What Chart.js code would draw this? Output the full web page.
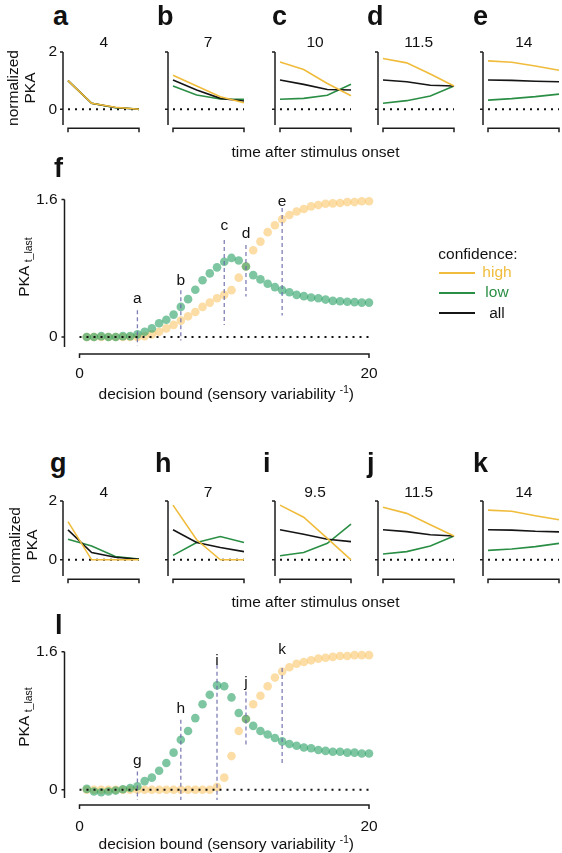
<!DOCTYPE html>
<html>
<head>
<meta charset="utf-8">
<script src="https://cdn.jsdelivr.net/npm/chart.js@4.4.1/dist/chart.umd.min.js"></script>
<style>
  html, body { margin: 0; padding: 0; background: #fff; }
  body { width: 562px; height: 853px; position: relative; overflow: hidden;
         font-family: 'Liberation Sans', Arial, Helvetica, sans-serif; color: #111; }
  canvas { position: absolute; }
  .t { position: absolute; white-space: nowrap; font-size: 15.5px; line-height: 15.5px; }
  .letter { position: absolute; font-weight: bold; font-size: 27px; line-height: 27px; }
  .rot { position: absolute; text-align: center; white-space: nowrap; font-size: 15.5px;
         transform: rotate(-90deg); transform-origin: 50% 50%; }
  .sup { font-size: 10px; position: relative; top: -6px; }
  .sub { font-size: 10.5px; position: relative; top: 3px; }
  .swatch { position: absolute; height: 2px; }
</style>
</head>
<body>

<script>
// ---- data ----
const timeSteps = [0, 1, 2, 3];
const smallTicks = [0, 2];
const bigTicksY = [0, 1.6];
const bigTicksX = [0, 20];

const lettersTop = ['a', 'b', 'c', 'd', 'e'];
const lettersBottom = ['g', 'h', 'i', 'j', 'k'];
const boundsTop = ['4', '7', '10', '11.5', '14'];
const boundsBottom = ['4', '7', '9.5', '11.5', '14'];

// normalized PKA, top row (a-e)
const highTop = [
  [1.00, 0.21, 0.07, 0.00],
  [1.19, 0.81, 0.44, 0.23],
  [1.65, 1.39, 0.90, 0.47],
  [1.77, 1.62, 1.23, 0.81],
  [1.69, 1.64, 1.51, 1.36]
];
const lowTop = [
  [1.00, 0.21, 0.05, 0.01],
  [0.81, 0.50, 0.36, 0.35],
  [0.35, 0.38, 0.49, 0.87],
  [0.21, 0.30, 0.46, 0.81],
  [0.32, 0.37, 0.44, 0.53]
];
const allTop = [
  [1.00, 0.21, 0.06, 0.00],
  [1.02, 0.67, 0.38, 0.29],
  [1.02, 0.87, 0.69, 0.67],
  [1.02, 0.96, 0.84, 0.81],
  [1.02, 1.01, 0.98, 0.96]
];

// normalized PKA, bottom row (g-k)
const highBottom = [
  [1.30, 0.00, 0.00, 0.00],
  [1.86, 0.68, 0.00, 0.00],
  [1.86, 1.45, 0.73, 0.00],
  [1.79, 1.58, 1.19, 0.81],
  [1.69, 1.65, 1.50, 1.36]
];
const lowBottom = [
  [0.70, 0.47, 0.11, 0.03],
  [0.15, 0.59, 0.79, 0.59],
  [0.14, 0.25, 0.56, 1.21],
  [0.20, 0.28, 0.47, 0.81],
  [0.32, 0.37, 0.45, 0.56]
];
const allBottom = [
  [1.02, 0.25, 0.09, 0.02],
  [1.02, 0.59, 0.42, 0.28],
  [1.02, 0.87, 0.70, 0.62],
  [1.02, 0.96, 0.85, 0.81],
  [1.02, 1.01, 0.97, 0.95]
];

// PKA t_last vs decision bound
const bound = [0.5, 1, 1.5, 2, 2.5, 3, 3.5, 4, 4.5, 5, 5.5, 6, 6.5, 7, 7.5, 8, 8.5, 9, 9.5, 10,
               10.5, 11, 11.5, 12, 12.5, 13, 13.5, 14, 14.5, 15, 15.5, 16, 16.5, 17, 17.5, 18, 18.5, 19, 19.5, 20];
const highF = [0, 0, 0, 0, 0, 0, 0, 0, 0.01, 0.03, 0.06, 0.10, 0.14, 0.19, 0.24, 0.29, 0.35, 0.40, 0.45, 0.49,
               0.545, 0.69, 0.82, 1.01, 1.11, 1.22, 1.30, 1.37, 1.42, 1.46, 1.49, 1.52, 1.535, 1.55, 1.555, 1.56, 1.57, 1.57, 1.58, 1.58];
const lowF = [0, 0, 0.01, 0, 0, 0.01, 0.01, 0.03, 0.06, 0.10, 0.16, 0.20, 0.26, 0.35, 0.44, 0.55, 0.66, 0.74, 0.81, 0.875,
              0.92, 0.89, 0.82, 0.72, 0.67, 0.62, 0.58, 0.545, 0.52, 0.49, 0.475, 0.46, 0.45, 0.435, 0.42, 0.415, 0.41, 0.405, 0.40, 0.40];
const highL = [0, 0, 0, 0, 0, 0, 0, 0, 0, 0, 0, 0, 0, 0, 0, 0, 0, 0, 0.03, 0.14,
               0.39, 0.68, 0.82, 0.99, 1.09, 1.20, 1.30, 1.37, 1.42, 1.46, 1.48, 1.50, 1.52, 1.53, 1.54, 1.55, 1.55, 1.56, 1.56, 1.56];
const lowL = [0.01, -0.02, -0.03, -0.02, -0.01, 0.005, 0.02, 0.04, 0.10, 0.14, 0.22, 0.31, 0.43, 0.58, 0.68, 0.83, 0.99, 1.10, 1.21, 1.20,
              1.07, 0.89, 0.82, 0.74, 0.68, 0.64, 0.60, 0.56, 0.53, 0.51, 0.49, 0.48, 0.46, 0.45, 0.44, 0.44, 0.43, 0.43, 0.42, 0.42];

// dashed markers (bound value, line top/bottom, label baseline)
const markF = [4, 7, 10, 11.5, 14];
const markTopF = [0.31, 0.545, 1.13, 1.07, 1.50];
const markBotF = [-0.10, -0.04, 0.14, 0.47, 0.25];
const markBaseF = [0.39, 0.60, 1.25, 1.15, 1.52];
const markL = [4, 7, 9.5, 11.5, 14];
const markTopL = [0.21, 0.81, 1.45, 1.14, 1.41];
const markBotL = [-0.12, -0.12, -0.12, 0.50, 0.31];
const markBaseL = [0.29, 0.89, 1.45, 1.19, 1.57];

// ---- styles ----
const fontFamily = "'Liberation Sans', Arial, Helvetica, sans-serif";
const yellowLine = '#F0BC3C';
const greenLine = '#2A8E45';
const blackLine = '#151515';
const yellowDot = 'rgba(250, 198, 105, 0.6)';
const greenDot = 'rgba(40, 160, 100, 0.6)';

Chart.defaults.font.family = fontFamily;
Chart.defaults.font.size = 15.5;
Chart.defaults.color = '#111';

// no extra room for tick labels: the layout is fixed by hand
function noPad(s) {
  s.paddingTop = 0; s.paddingBottom = 0; s.paddingLeft = 0; s.paddingRight = 0;
}

// detached axes, drawn from the scales
const framePlugin = {
  id: 'frame',
  afterDraw(chart, args, opts) {
    const { ctx, chartArea: area, scales } = chart;
    const y = scales.y;
    ctx.save();
    ctx.strokeStyle = '#1c1c1c';
    ctx.lineWidth = 1.5;
    const ax = area.left - opts.yGap;
    ctx.beginPath();
    ctx.moveTo(ax, y.getPixelForValue(y.max));
    ctx.lineTo(ax, y.getPixelForValue(y.min));
    y.ticks.forEach(t => {
      const py = y.getPixelForValue(t.value);
      ctx.moveTo(ax - 3, py);
      ctx.lineTo(ax, py);
    });
    ctx.stroke();
    const ay = area.bottom + opts.xGap;
    ctx.beginPath();
    ctx.moveTo(area.left, ay + 4);
    ctx.lineTo(area.left, ay);
    ctx.lineTo(area.right, ay);
    ctx.lineTo(area.right, ay + 4);
    ctx.stroke();
    ctx.restore();
  }
};

const markerPlugin = {
  id: 'markers',
  afterDatasetsDraw(chart, args, opts) {
    if (!opts.xs) return;
    const { ctx, scales: { x, y } } = chart;
    ctx.save();
    ctx.strokeStyle = 'rgba(105, 105, 170, 0.85)';
    ctx.lineWidth = 1.3;
    ctx.setLineDash([4, 3]);
    opts.xs.forEach((v, i) => {
      const px = x.getPixelForValue(v);
      ctx.beginPath();
      ctx.moveTo(px, y.getPixelForValue(opts.tops[i]));
      ctx.lineTo(px, y.getPixelForValue(opts.bottoms[i]));
      ctx.stroke();
    });
    ctx.setLineDash([]);
    ctx.fillStyle = '#111';
    ctx.font = '15.5px ' + fontFamily;
    ctx.textAlign = 'center';
    ctx.textBaseline = 'alphabetic';
    opts.labels.forEach((s, i) => {
      ctx.fillText(s, x.getPixelForValue(opts.xs[i]), y.getPixelForValue(opts.bases[i]));
    });
    ctx.restore();
  }
};

function addCanvas(left, top, w, h) {
  const c = document.createElement('canvas');
  c.width = Math.round(w);
  c.height = Math.round(h);
  c.style.left = left + 'px';
  c.style.top = top + 'px';
  c.style.width = Math.round(w) + 'px';
  c.style.height = Math.round(h) + 'px';
  document.body.appendChild(c);
  return c;
}

function addText(html, left, top, cls, style) {
  const d = document.createElement('div');
  d.className = cls;
  d.innerHTML = html;
  d.style.left = left + 'px';
  d.style.top = top + 'px';
  if (style) d.style.cssText += style;
  document.body.appendChild(d);
  return d;
}

function zeroLine(x0, x1, order) {
  return {
    type: 'line', data: [{ x: x0, y: 0 }, { x: x1, y: 0 }], order,
    borderColor: '#111', borderWidth: 2, borderDash: [2, 5], pointRadius: 0, clip: false
  };
}

function lineSet(values, color, order) {
  return {
    type: 'line', data: values.map((v, i) => ({ x: timeSteps[i], y: v })), order,
    borderColor: color, borderWidth: 1.6, pointRadius: 0, tension: 0, clip: false
  };
}

function smallPanel(axisX, top, bottom, high, low, all, showTicks) {
  const left = axisX + 5, right = axisX + 76;
  const padL = 40, padR = 4, padT = 14, padB = 10;
  const cv = addCanvas(left - padL, top - padT, right - left + padL + padR, bottom - top + padT + padB);
  new Chart(cv, {
    type: 'scatter',
    data: {
      datasets: [
        lineSet(high, yellowLine, 0),
        lineSet(all, blackLine, 1),
        lineSet(low, greenLine, 2),
        zeroLine(timeSteps[0], timeSteps[timeSteps.length - 1], 3)
      ]
    },
    options: {
      animation: false, responsive: false, devicePixelRatio: 1,
      layout: { padding: { top: padT, bottom: padB, right: padR, left: 0 } },
      plugins: { legend: { display: false }, tooltip: { enabled: false }, frame: { yGap: 5, xGap: 3.3 } },
      scales: {
        x: { type: 'linear', min: 0, max: 3, display: false },
        y: {
          min: -0.55, max: 2,
          afterFit: s => { s.width = padL; noPad(s); },
          afterBuildTicks: s => { s.ticks = smallTicks.map(v => ({ value: v })); },
          grid: { display: false, drawTicks: false },
          border: { display: false },
          ticks: { display: showTicks, padding: 11, callback: v => String(v) }
        }
      }
    },
    plugins: [framePlugin]
  });
}

function bigPanel(canvasTop, areaTop, areaBottom, yMin, high, low, marks, tickPad) {
  const areaLeft = 79.5, areaRight = 369, canvasW = 400, canvasBottom = areaBottom + 54;
  new Chart(addCanvas(0, canvasTop, canvasW, canvasBottom - canvasTop), {
    type: 'scatter',
    data: {
      datasets: [
        zeroLine(bigTicksX[0], bigTicksX[1], 0),
        { data: bound.map((b, i) => ({ x: b, y: low[i] })), order: 1,
          backgroundColor: greenDot, borderWidth: 0, pointRadius: 4.3, clip: false },
        { data: bound.map((b, i) => ({ x: b, y: high[i] })), order: 2,
          backgroundColor: yellowDot, borderWidth: 0, pointRadius: 4.3, clip: false }
      ]
    },
    options: {
      animation: false, responsive: false, devicePixelRatio: 1,
      layout: { padding: { top: areaTop - canvasTop, bottom: 0, right: canvasW - areaRight, left: 0 } },
      plugins: {
        legend: { display: false }, tooltip: { enabled: false },
        frame: { yGap: 15, xGap: 7 },
        markers: marks
      },
      scales: {
        x: {
          type: 'linear', min: 0, max: 20,
          afterFit: s => { s.height = canvasBottom - areaBottom; noPad(s); },
          afterBuildTicks: s => { s.ticks = bigTicksX.map(v => ({ value: v })); },
          grid: { display: false, drawTicks: false },
          border: { display: false },
          ticks: { padding: tickPad, maxRotation: 0, callback: v => String(v) }
        },
        y: {
          min: yMin, max: 1.6,
          afterFit: s => { s.width = areaLeft; noPad(s); },
          afterBuildTicks: s => { s.ticks = bigTicksY.map(v => ({ value: v })); },
          grid: { display: false, drawTicks: false },
          border: { display: false },
          ticks: { padding: 22, callback: v => String(v) }
        }
      }
    },
    plugins: [framePlugin, markerPlugin]
  });
}

// ---- layout ----
const axisXs = [63.3, 167.6, 274.5, 378.2, 483.3];
const letterLeftTop = [53, 157, 272, 367, 473];
const letterLeftBottom = [50, 155, 263, 367, 473];

axisXs.forEach((ax, i) => {
  smallPanel(ax, 52, 125, highTop[i], lowTop[i], allTop[i], i === 0);
  smallPanel(ax, 501, 576, highBottom[i], lowBottom[i], allBottom[i], i === 0);
  addText(lettersTop[i], letterLeftTop[i], 2.6, 'letter');
  addText(lettersBottom[i], letterLeftBottom[i], 450, 'letter');
  addText(boundsTop[i], ax + 40.5, 34.4, 't', 'transform:translateX(-50%)');
  addText(boundsBottom[i], ax + 40.5, 484.4, 't', 'transform:translateX(-50%)');
});

bigPanel(180, 199.5, 346.7, -0.117,
  highF, lowF,
  { xs: markF, tops: markTopF, bottoms: markBotF, bases: markBaseF, labels: lettersTop }, 17);
bigPanel(632, 651.7, 798.3, -0.096,
  highL, lowL,
  { xs: markL, tops: markTopL, bottoms: markBotL, bases: markBaseL, labels: lettersBottom }, 19);

addText('f', 54, 155, 'letter');
addText('l', 55, 612, 'letter');

// axis titles
addText('normalized<br>PKA', 21 - 50, 88 - 17, 'rot', 'width:100px;height:34px;line-height:17px');
addText('normalized<br>PKA', 23 - 50, 545 - 17, 'rot', 'width:100px;height:34px;line-height:17px');
addText('time after stimulus onset', 231.5, 143.6, 't');
addText('time after stimulus onset', 231.5, 593.6, 't');
addText('PKA <span class="sub">t_last</span>', 24 - 40, 267 - 9, 'rot', 'width:80px;height:18px;line-height:18px');
addText('PKA <span class="sub">t_last</span>', 24 - 40, 717 - 9, 'rot', 'width:80px;height:18px;line-height:18px');
addText('decision bound (sensory variability <span class="sup">-1</span>)', 98.6, 386.2, 't');
addText('decision bound (sensory variability <span class="sup">-1</span>)', 98.6, 836.2, 't');

// legend
addText('confidence:', 438.3, 245.8, 't');
const legendRows = [['high', yellowLine, 272.7], ['low', greenLine, 292.7], ['all', blackLine, 313.3]];
legendRows.forEach(([name, color, y]) => {
  addText('', 439.3, y - 1, 'swatch', 'width:36px;background:' + color);
  addText(name, 497, y - 8.5, 't', 'transform:translateX(-50%);color:' + color);
});
</script>
</body>
</html>
